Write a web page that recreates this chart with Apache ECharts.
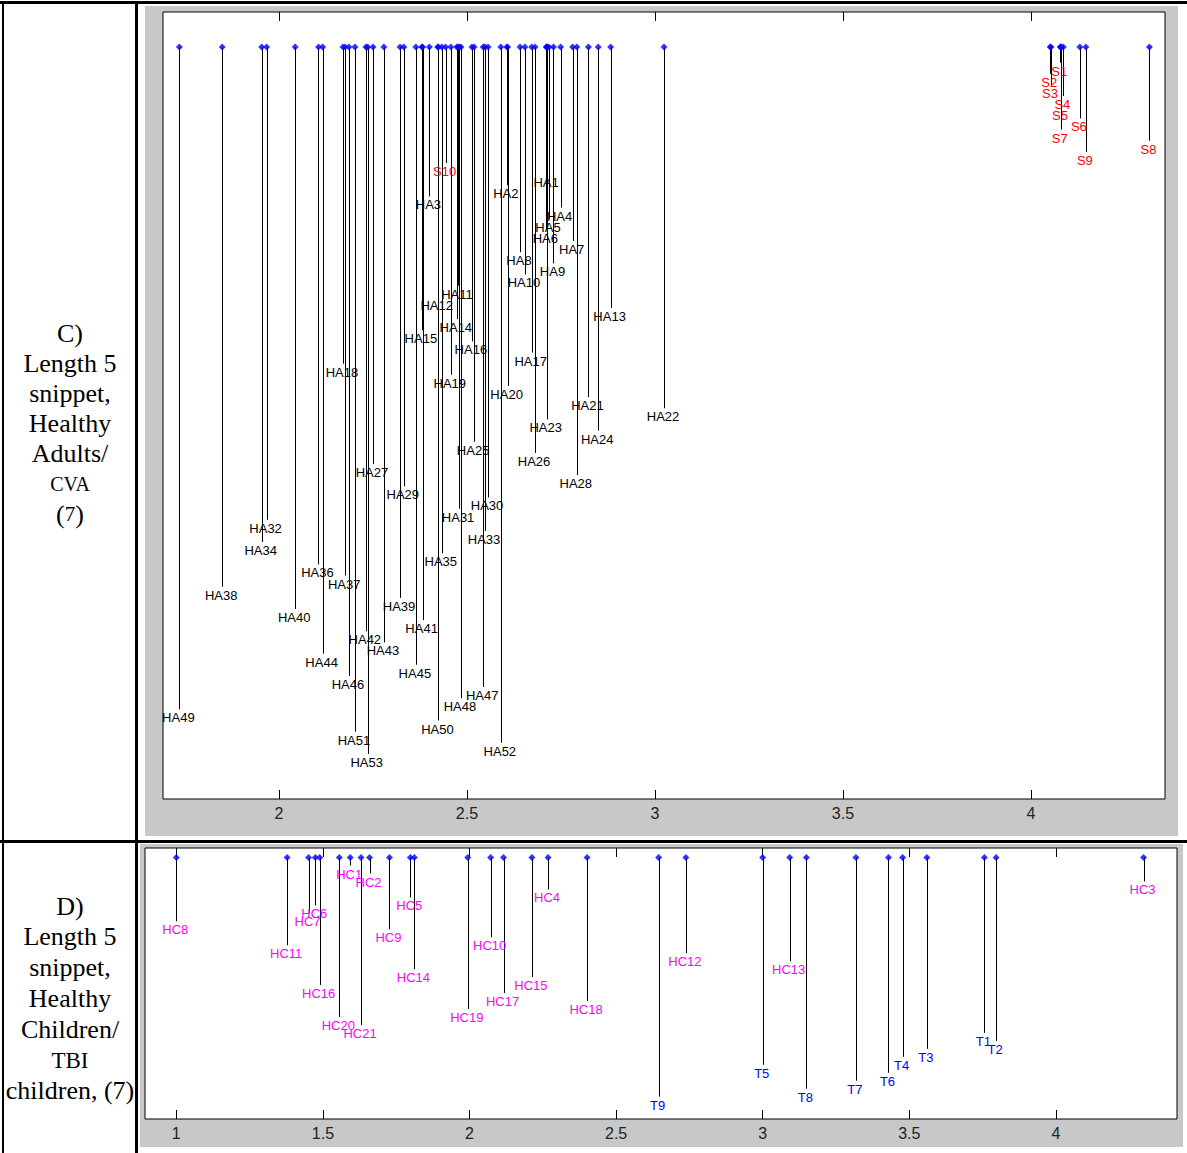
<!DOCTYPE html>
<html>
<head>
<meta charset="utf-8">
<script src="https://cdn.jsdelivr.net/npm/echarts@6/dist/echarts.min.js"></script>
<style>
html,body{margin:0;padding:0;background:#fff;}
#chart{position:absolute;left:0;top:0;width:1187px;height:1153px;}
</style>
</head>
<body>
<div id="chart"></div>
<script>
// ---------- DATA ----------
// Panel C: CVA (S) and Healthy Adults (HA)
const cvaNames  = ['S1','S2','S3','S4','S5','S6','S7','S8','S9','S10'];
const cvaValues = [4.078, 4.051, 4.053, 4.086, 4.080, 4.130, 4.079, 4.315, 4.146, 2.443];
const cvaLevels = [1,2,3,4,5,6,7,8,9,10];

const haNames = ['HA1','HA2','HA3','HA4','HA5','HA6','HA7','HA8','HA9','HA10',
  'HA11','HA12','HA13','HA14','HA15','HA16','HA17','HA18','HA19','HA20',
  'HA21','HA22','HA23','HA24','HA25','HA26','HA27','HA28','HA29','HA30',
  'HA31','HA32','HA33','HA34','HA35','HA36','HA37','HA38','HA39','HA40',
  'HA41','HA42','HA43','HA44','HA45','HA46','HA47','HA48','HA49','HA50',
  'HA51','HA52','HA53'];
const haValues = [2.713, 2.606, 2.400, 2.749, 2.718, 2.711, 2.781, 2.641, 2.730, 2.654,
  2.476, 2.422, 2.882, 2.473, 2.380, 2.513, 2.672, 2.170, 2.457, 2.608,
  2.823, 3.024, 2.712, 2.849, 2.519, 2.681, 2.250, 2.792, 2.332, 2.556,
  2.479, 1.967, 2.548, 1.954, 2.433, 2.105, 2.176, 1.849, 2.322, 2.043,
  2.382, 2.231, 2.279, 2.116, 2.364, 2.186, 2.543, 2.484, 1.735, 2.424,
  2.202, 2.590, 2.236];
const haLevels = [11,12,13,14,15,16,17,18,19,20,
  21,22,23,24,25,26,27,28,29,30,
  31,32,33,34,35,36,37,38,39,40,
  41,42,43,44,45,46,47,48,49,50,
  51,52,53,54,55,56,57,58,59,60,
  61,62,63];

// Panel D: Healthy Children (HC) and TBI children (T)
const hcNames = ['HC1','HC2','HC3','HC4','HC5','HC6','HC7','HC8','HC9','HC10',
  'HC11','HC12','HC13','HC14','HC15','HC16','HC17','HC18','HC19','HC20','HC21'];
const hcValues = [1.593, 1.659, 4.299, 2.268, 1.798, 1.474, 1.451, 1.000, 1.727, 2.072,
  1.378, 2.738, 3.092, 1.812, 2.213, 1.489, 2.116, 2.401, 1.994, 1.556, 1.630];
const hcLevels = [1,2,3,4,5,6,7,8,9,10,11,12,13,14,15,16,17,18,19,20,21];

const tbiNames  = ['T1','T2','T3','T4','T5','T6','T7','T8','T9'];
const tbiValues = [3.756, 3.796, 3.560, 3.477, 3.000, 3.429, 3.318, 3.149, 2.645];
const tbiLevels = [22,23,24,25,26,27,28,29,30];

// Tick labels
const ticksC = [2, 2.5, 3, 3.5, 4];
const ticksD = [1, 1.5, 2, 2.5, 3, 3.5, 4];

// Row captions
const captionC = ['C)', 'Length 5', 'snippet,', 'Healthy', 'Adults/', 'CVA', '(7)'];
const captionD = ['D)', 'Length 5', 'snippet,', 'Healthy', 'Children/', 'TBI', 'children, (7)'];

// ---------- STYLE / LAYOUT ----------
const markerLevelC = -0.4;
const markerLevelD = 0;
const COLORS = {S:'#ff0000', HA:'#000000', HC:'#ff00ff', T:'#0000ff'};
const LABEL_FONT = '13px "Liberation Sans", Arial, sans-serif';

function makeItems(names, values, levels, group) {
  return names.map((n, i) => ({ name: n, value: [values[i], levels[i]], group: group }));
}

function stemSeries(items, topLevel, axisIdx) {
  return {
    type: 'custom',
    xAxisIndex: axisIdx * 2,
    yAxisIndex: axisIdx,
    clip: false,
    z: 2,
    data: items.map(d => ({ name: d.name, value: d.value })),
    renderItem: function (params, api) {
      const it = items[params.dataIndex];
      const x = api.value(0), lvl = api.value(1);
      const p0 = api.coord([x, topLevel]);
      const p1 = api.coord([x, lvl]);
      const px = Math.round(p0[0]) + 0.5;
      return {
        type: 'group',
        children: [
          { type: 'line', shape: { x1: px, y1: p0[1], x2: px, y2: p1[1] },
            style: { stroke: '#000', lineWidth: 1 } },
          { type: 'text', x: p1[0] - 1, y: p1[1] + 8.5, z2: 5,
            style: { text: it.name, fill: COLORS[it.group], font: LABEL_FONT,
                     align: 'center', verticalAlign: 'middle' } }
        ]
      };
    }
  };
}

function markerSeries(items, topLevel, axisIdx) {
  return {
    type: 'scatter',
    xAxisIndex: axisIdx * 2,
    yAxisIndex: axisIdx,
    symbol: 'diamond',
    symbolSize: [7, 7],
    itemStyle: { color: '#0000ff' },
    z: 5,
    silent: true,
    data: items.map(d => [d.value[0], topLevel])
  };
}

const itemsC = makeItems(cvaNames, cvaValues, cvaLevels, 'S')
  .concat(makeItems(haNames, haValues, haLevels, 'HA'));
const itemsD = makeItems(hcNames, hcValues, hcLevels, 'HC')
  .concat(makeItems(tbiNames, tbiValues, tbiLevels, 'T'));

function xAxes(gridIndex, min, max, ticks) {
  const common = {
    type: 'value', gridIndex: gridIndex, min: min, max: max,
    axisLine: { show: false, onZero: false }, splitLine: { show: false },
    axisTick: { show: true, inside: true, length: 9, customValues: ticks,
                lineStyle: { color: '#000', width: 1 } }
  };
  return [
    Object.assign({}, common, {
      position: 'bottom',
      axisLabel: { show: true, customValues: ticks, margin: 6, color: '#222',
                   fontSize: 16, fontFamily: '"Liberation Sans", Arial, sans-serif' }
    }),
    Object.assign({}, common, { position: 'top', axisLabel: { show: false } })
  ];
}

// caption graphics
function captionGraphics(lines, startY, step) {
  return lines.map((t, i) => {
    let size = 26;
    if (t === 'CVA') size = 20;
    if (t === 'TBI') size = 23;
    let style = { text: t, x: 70, y: startY + i * step, align: 'center', verticalAlign: 'middle',
                  fill: '#000', font: size + 'px "Liberation Serif", "Times New Roman", serif' };
    if (t === '(7)') {
      style.text = '{a|(}{b|7}{a|)}';
      style.rich = { a: { fontSize: 26, fontFamily: '"Liberation Serif", serif', fill: '#000' },
                     b: { fontSize: 21, fontFamily: '"Liberation Serif", serif', fill: '#000' } };
      style.font = '26px "Liberation Serif", serif';
    }
    return { type: 'text', z: 100, style: style };
  });
}

const chart = echarts.init(document.getElementById('chart'), null, { renderer: 'svg', width: 1187, height: 1153 });

const option = {
  backgroundColor: '#fff',
  animation: false,
  grid: [
    { left: 163, top: 12, width: 1002, height: 787, show: true, backgroundColor: '#fff',
      borderColor: '#000', borderWidth: 1, containLabel: false },
    { left: 145, top: 848, width: 1032, height: 271, show: true, backgroundColor: '#fff',
      borderColor: '#000', borderWidth: 1, containLabel: false }
  ],
  xAxis: [].concat(xAxes(0, 1.6915, 4.3564, ticksC), xAxes(1, 0.8932, 4.413, ticksD)),
  yAxis: [
    { type: 'value', gridIndex: 0, inverse: true, min: -3.54, max: 67.04, show: false },
    { type: 'value', gridIndex: 1, inverse: true, min: -1.20, max: 32.80, show: false }
  ],
  series: [
    stemSeries(itemsC, markerLevelC, 0),
    markerSeries(itemsC, markerLevelC, 0),
    stemSeries(itemsD, markerLevelD, 1),
    markerSeries(itemsD, markerLevelD, 1)
  ],
  graphic: [
    // gray figure backgrounds
    { type: 'rect', z: -10, shape: { x: 145, y: 6, width: 1033, height: 830 }, style: { fill: '#c8c8c8' } },
    { type: 'rect', z: -10, shape: { x: 140, y: 844, width: 1043, height: 303 }, style: { fill: '#c8c8c8' } },
    // table lines
    { type: 'rect', z: 100, shape: { x: 0, y: 1, width: 1187, height: 3 }, style: { fill: '#000' } },
    { type: 'rect', z: 100, shape: { x: 0, y: 840, width: 1187, height: 3 }, style: { fill: '#000' } },
    { type: 'rect', z: 100, shape: { x: 2, y: 1, width: 2, height: 1152 }, style: { fill: '#000' } },
    { type: 'rect', z: 100, shape: { x: 135, y: 1, width: 3, height: 1152 }, style: { fill: '#000' } }
  ].concat(captionGraphics(captionC, 333, 30.2), captionGraphics(captionD, 906, 30.8))
};

chart.setOption(option);
</script>
</body>
</html>
